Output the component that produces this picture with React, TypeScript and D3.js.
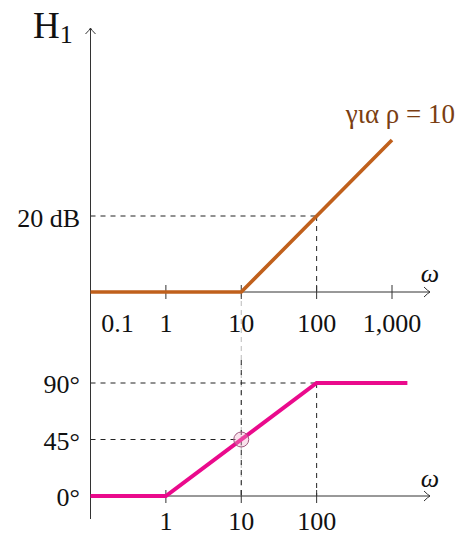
import React from "react";
import * as d3 from "d3";

const magOmega = [0.1, 10, 1000];
const magDb = [0, 0, 40];
const phaseOmega = [0.1, 1, 100, 1600];
const phaseDeg = [0, 0, 90, 90];
const topTicks = [0.1, 1, 10, 100, 1000];
const topTickLabels = ["0.1", "1", "10", "100", "1,000"];
const bottomTicks = [1, 10, 100];
const bottomTickLabels = ["1", "10", "100"];
const phaseLevels = [0, 45, 90];
const phaseLabels = ["0°", "45°", "90°"];
const dbLevel = 20;
const dbLabel = "20 dB";
const curveLabel = "για ρ = 10";
const markOmega = 10;
const markDeg = 45;

const W = 459;
const H = 535;
const FONT = "'Liberation Serif', 'DejaVu Serif', serif";
const BROWN = "#c0601c";
const BROWN_TEXT = "#7a3e12";
const PINK = "#ea0a8c";
const AXIS = "#333";

export default function App() {
  const x = d3.scaleLog().domain([0.1, 1000]).range([90.5, 392]);
  const yMag = d3.scaleLinear().domain([0, 20]).range([292, 216]);
  const yPh = d3.scaleLinear().domain([0, 90]).range([496, 383]);
  const axisX = x(0.1);
  const arrowX = 430;

  const magLine = d3
    .line<number>()
    .x((_, i) => x(magOmega[i]))
    .y((d) => yMag(d));
  const phLine = d3
    .line<number>()
    .x((_, i) => x(phaseOmega[i]))
    .y((d) => yPh(d));

  const chevronR = (tx: number, ty: number) =>
    `M${tx - 6},${ty - 5} Q${tx - 2},${ty - 1} ${tx},${ty} Q${tx - 2},${ty + 1} ${tx - 6},${ty + 5}`;
  const chevronU = (tx: number, ty: number) =>
    `M${tx - 5},${ty + 6} Q${tx - 1},${ty + 2} ${tx},${ty} Q${tx + 1},${ty + 2} ${tx + 5},${ty + 6}`;

  return (
    <svg
      width={W}
      height={H}
      style={{ position: "absolute", left: 0, top: 0, background: "#fff" }}
      fontFamily={FONT}
    >
      {/* thin gray dashed vertical at omega=10 between panels */}
      <line
        x1={x(10)}
        x2={x(10)}
        y1={yMag(0)}
        y2={yPh(0)}
        stroke="#aaa"
        strokeWidth={0.8}
        strokeDasharray="5,4"
      />
      {/* top panel dashed guides */}
      <line x1={axisX} x2={x(100)} y1={yMag(dbLevel)} y2={yMag(dbLevel)} stroke="#222" strokeWidth={1} strokeDasharray="5,5" />
      <line x1={x(100)} x2={x(100)} y1={yMag(dbLevel)} y2={yMag(0)} stroke="#222" strokeWidth={1} strokeDasharray="5,5" />
      {/* bottom panel dashed guides */}
      <line x1={axisX} x2={x(100)} y1={yPh(90)} y2={yPh(90)} stroke="#222" strokeWidth={1} strokeDasharray="5,5" />
      <line x1={axisX} x2={x(10)} y1={yPh(45)} y2={yPh(45)} stroke="#222" strokeWidth={1} strokeDasharray="5,5" />
      <line x1={x(100)} x2={x(100)} y1={yPh(90)} y2={yPh(0)} stroke="#222" strokeWidth={1} strokeDasharray="5,5" />
      <line x1={x(10)} x2={x(10)} y1={yPh(90) - 23} y2={yPh(0)} stroke="#222" strokeWidth={1} strokeDasharray="5,5" />

      {/* y axis */}
      <line x1={axisX} x2={axisX} y1={28} y2={519} stroke={AXIS} strokeWidth={1} />
      <path d={chevronU(axisX, 28)} fill="none" stroke={AXIS} strokeWidth={1} />
      {/* top x axis */}
      <line x1={axisX} x2={arrowX} y1={yMag(0)} y2={yMag(0)} stroke={AXIS} strokeWidth={1} />
      <path d={chevronR(arrowX, yMag(0))} fill="none" stroke={AXIS} strokeWidth={1} />
      {topTicks.slice(1).map((t) => (
        <line key={t} x1={x(t)} x2={x(t)} y1={yMag(0) - 7} y2={yMag(0) + 7} stroke={AXIS} strokeWidth={1} />
      ))}
      {/* bottom x axis */}
      <line x1={axisX} x2={arrowX} y1={yPh(0)} y2={yPh(0)} stroke={AXIS} strokeWidth={1} />
      <path d={chevronR(arrowX, yPh(0))} fill="none" stroke={AXIS} strokeWidth={1} />
      {bottomTicks.map((t) => (
        <line key={t} x1={x(t)} x2={x(t)} y1={yPh(0) - 6} y2={yPh(0) + 7} stroke={AXIS} strokeWidth={1} />
      ))}

      {/* curves */}
      <path d={magLine(magDb) || ""} fill="none" stroke={BROWN} strokeWidth={3.6} />
      <path d={phLine(phaseDeg) || ""} fill="none" stroke={PINK} strokeWidth={4} />
      <circle cx={x(markOmega)} cy={yPh(markDeg)} r={7.5} fill="rgba(240,170,200,0.35)" stroke="#a05a80" strokeWidth={1} />

      {/* tick labels */}
      {topTicks.map((t, i) => (
        <text
          key={t}
          x={i === 0 ? x(t) + 27 : x(t)}
          y={332}
          textAnchor="middle"
          fontSize={26}
          fill="#111"
        >
          {topTickLabels[i]}
        </text>
      ))}
      {bottomTicks.map((t, i) => (
        <text key={t} x={x(t)} y={530} textAnchor="middle" fontSize={26} fill="#111">
          {bottomTickLabels[i]}
        </text>
      ))}
      <text x={80} y={227} textAnchor="end" fontSize={26} fill="#111">
        {dbLabel}
      </text>
      {phaseLevels.map((p, i) => (
        <text key={p} x={80} y={yPh(p) + 10} textAnchor="end" fontSize={26} fill="#111">
          {phaseLabels[i]}
        </text>
      ))}
      {/* axis labels */}
      <text x={430} y={282} textAnchor="middle" fontSize={26} fontStyle="italic" fill="#111">
        ω
      </text>
      <text x={430} y={487} textAnchor="middle" fontSize={26} fontStyle="italic" fill="#111">
        ω
      </text>
      <text x={33} y={38} fontSize={37} fill="#111">
        H
        <tspan fontSize={26} dy={5}>
          1
        </tspan>
      </text>
      <text x={455} y={123} textAnchor="end" fontSize={27} fill={BROWN_TEXT}>
        {curveLabel}
      </text>
    </svg>
  );
}
